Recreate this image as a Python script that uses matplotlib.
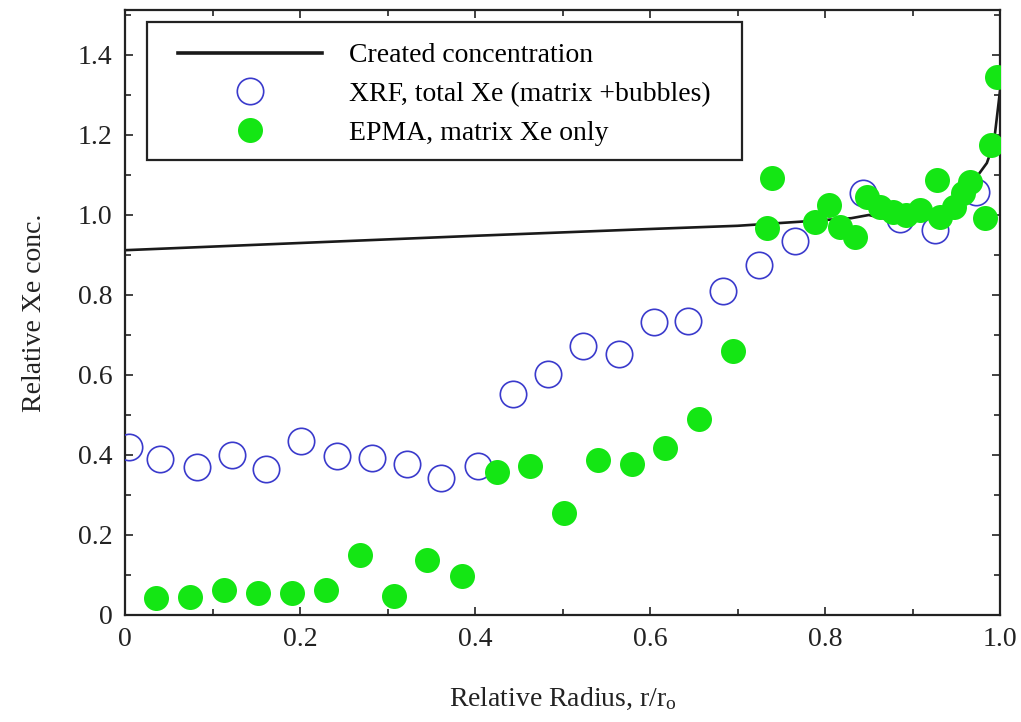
import matplotlib
matplotlib.use("Agg")
import matplotlib.pyplot as plt
from matplotlib.patches import Rectangle
from matplotlib.ticker import MultipleLocator, FuncFormatter

plt.rcParams['font.family'] = ['Liberation Serif', 'DejaVu Serif']
plt.rcParams['mathtext.fontset'] = 'custom'
plt.rcParams['mathtext.rm'] = 'Liberation Serif'
plt.rcParams['mathtext.it'] = 'Liberation Serif:italic'

# created concentration curve
line_x = [0.0, 0.2, 0.4, 0.6, 0.7, 0.77, 0.83, 0.85, 0.88, 0.9, 0.93, 0.95, 0.97, 0.985, 0.993, 1.0]
line_y = [0.912, 0.93, 0.948, 0.965, 0.973, 0.983, 0.992, 1.0, 0.985, 0.985, 1.0, 1.03, 1.085, 1.13, 1.18, 1.31]

# XRF, total Xe
xrf_x = [0.005, 0.04, 0.082, 0.122, 0.161, 0.201, 0.242, 0.282, 0.322, 0.361, 0.403,
         0.443, 0.483, 0.523, 0.565, 0.605, 0.643, 0.683, 0.725, 0.766, 0.843, 0.886, 0.926, 0.972]
xrf_y = [0.42, 0.39, 0.37, 0.40, 0.365, 0.435, 0.397, 0.392, 0.377, 0.343, 0.372,
         0.552, 0.602, 0.672, 0.652, 0.732, 0.735, 0.81, 0.875, 0.935, 1.055, 0.99, 0.962, 1.058]

# EPMA, matrix Xe only
epma_x = [0.035, 0.074, 0.113, 0.152, 0.191, 0.23, 0.268, 0.307, 0.345, 0.385, 0.425,
          0.463, 0.502, 0.540, 0.579, 0.617, 0.656, 0.695, 0.734, 0.739, 0.789, 0.804,
          0.817, 0.834, 0.848, 0.863, 0.878, 0.893, 0.909, 0.928, 0.931, 0.947, 0.958,
          0.966, 0.983, 0.99, 0.996]
epma_y = [0.042, 0.044, 0.062, 0.056, 0.054, 0.062, 0.149, 0.047, 0.137, 0.097, 0.358,
          0.372, 0.254, 0.387, 0.377, 0.417, 0.49, 0.66, 0.967, 1.092, 0.983, 1.025,
          0.971, 0.946, 1.046, 1.021, 1.008, 1.0, 1.012, 1.087, 0.996, 1.021, 1.054,
          1.082, 0.992, 1.175, 1.345]

fig = plt.figure(figsize=(10.21, 7.22), dpi=100)
ax = fig.add_axes([125/1021, 107/722, 875/1021, 605/722])

ax.plot(line_x, line_y, color='#1a1a1a', lw=1.9, label='Created concentration', zorder=2)
ax.plot(xrf_x, xrf_y, 'o', ms=19, mfc='none', mec='#3a3acc', mew=1.2,
        label='XRF, total Xe (matrix +bubbles)', zorder=3)
ax.plot(epma_x, epma_y, 'o', ms=18, mfc='#14e614', mec='#14e614', mew=0,
        label='EPMA, matrix Xe only', zorder=4)

ax.set_xlim(0, 1.0)
ax.set_ylim(0, 1.5125)

ax.xaxis.set_major_locator(MultipleLocator(0.2))
ax.xaxis.set_minor_locator(MultipleLocator(0.1))
ax.yaxis.set_major_locator(MultipleLocator(0.2))
ax.yaxis.set_minor_locator(MultipleLocator(0.1))
fmt = FuncFormatter(lambda v, p: '0' if abs(v) < 1e-9 else '%.1f' % v)
ax.xaxis.set_major_formatter(fmt)
ax.yaxis.set_major_formatter(fmt)
ax.tick_params(which='both', direction='in', top=True, right=True, width=1.2,
               colors='#222222', labelsize=20, pad=9)
ax.tick_params(which='major', length=6)
ax.tick_params(which='minor', length=4)
for s in ax.spines.values():
    s.set_linewidth(1.6)
    s.set_color('#222222')

ax.set_xlabel('Relative Radius, r/r$_\\mathrm{o}$', fontsize=20, color='#222222', labelpad=24)
ax.set_ylabel('Relative Xe conc.', fontsize=20, color='#222222', labelpad=22)

# legend without its own frame, box drawn separately
leg = ax.legend(loc='upper left', bbox_to_anchor=(53/875, 572/605), fontsize=20,
                handlelength=5.2, handletextpad=0.94, labelspacing=0.48,
                borderpad=0, borderaxespad=0, frameon=False)
leg.get_lines()[0].set_linewidth(2.6)
box = Rectangle((22/875, 455/605), 595/875, 138/605, transform=ax.transAxes,
                fill=True, facecolor='white', edgecolor='#222222', lw=1.6, zorder=5)
ax.add_patch(box)
leg.set_zorder(6)

fig.savefig('out.png', dpi=100)
